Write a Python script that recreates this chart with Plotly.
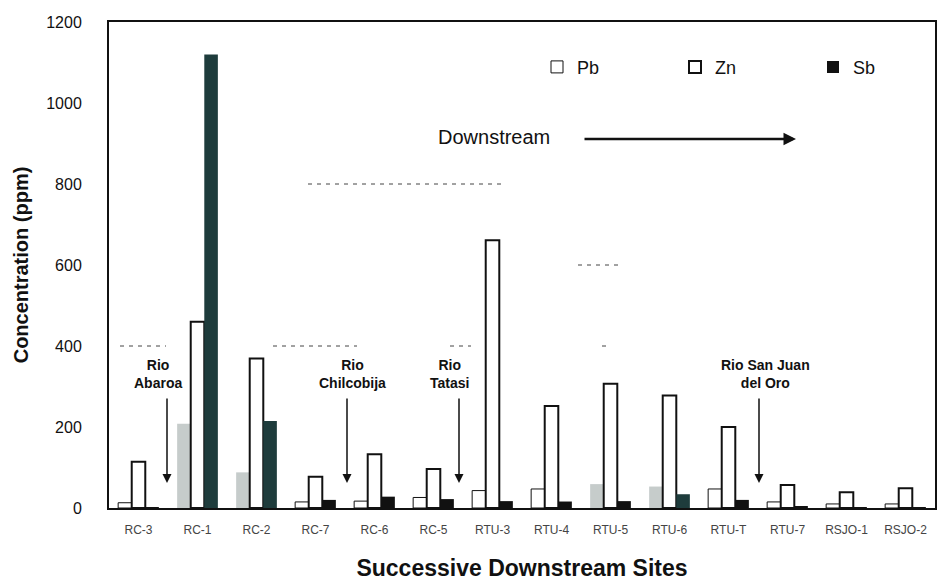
import plotly.graph_objects as go

# Sampling sites, upstream to downstream
sites = ["RC-3", "RC-1", "RC-2", "RC-7", "RC-6", "RC-5", "RTU-3", "RTU-4",
         "RTU-5", "RTU-6", "RTU-T", "RTU-7", "RSJO-1", "RSJO-2"]

# Concentrations (ppm)
pb = [13, 208, 88, 15, 17, 26, 43, 47, 59, 53, 47, 15, 10, 10]
zn = [114, 460, 369, 77, 133, 96, 661, 252, 307, 278, 200, 57, 39, 49]
sb = [2, 1120, 215, 20, 28, 22, 17, 16, 17, 34, 20, 5, 2, 1]

y_ticks = [0, 200, 400, 600, 800, 1000, 1200]

# Sites whose bars are shaded in the figure
shaded_pb = {"RC-1", "RC-2", "RTU-5", "RTU-6"}
shaded_sb = {"RC-1", "RC-2", "RTU-6"}

FONT = "Liberation Sans, Arial, sans-serif"
BLACK = "#111111"

pb_colors = ["#c6cccb" if s in shaded_pb else "white" for s in sites]
pb_lines = [0 if s in shaded_pb else 1 for s in sites]
sb_colors = ["#1e3c3c" if s in shaded_sb else BLACK for s in sites]

fig = go.Figure()
fig.add_trace(go.Bar(name="Pb", x=sites, y=pb,
                     marker=dict(color=pb_colors,
                                 line=dict(color=BLACK, width=pb_lines))))
fig.add_trace(go.Bar(name="Zn", x=sites, y=zn,
                     marker=dict(color="white",
                                 line=dict(color=BLACK, width=2))))
fig.add_trace(go.Bar(name="Sb", x=sites, y=sb,
                     marker=dict(color=sb_colors, line=dict(width=0))))

# Fractional category index from a horizontal pixel position in the plot area
PLOT_L, PLOT_R = 109, 935
step = (PLOT_R - PLOT_L) / len(sites)


def cx(px):
    return (px - PLOT_L) / step - 0.5


def vy(py):
    return (508 - py) / (486 / 1200)


annotations = []

# Tributary labels with downward arrows
tributaries = [
    ("Rio<br>Abaroa", 158, 167),
    ("Rio<br>Chilcobija", 352, 347),
    ("Rio<br>Tatasi", 449, 459),
    ("Rio San Juan<br>del Oro", 765, 759),
]
for text, tx, ax_px in tributaries:
    annotations.append(dict(x=cx(tx), y=vy(374), xref="x", yref="y",
                            text="<b>" + text.replace("<br>", "</b><br><b>") + "</b>",
                            showarrow=False,
                            font=dict(family=FONT, size=14, color=BLACK),
                            align="center"))
    annotations.append(dict(x=cx(ax_px), y=vy(483), xref="x", yref="y",
                            ax=cx(ax_px), ay=vy(397), axref="x", ayref="y",
                            text="", showarrow=True, arrowhead=2,
                            arrowsize=1.2, arrowwidth=1.5, arrowcolor=BLACK))

# Flow direction
annotations.append(dict(x=cx(494), y=vy(137), xref="x", yref="y",
                        text="Downstream", showarrow=False,
                        font=dict(family=FONT, size=20, color=BLACK)))
annotations.append(dict(x=cx(796), y=vy(139), xref="x", yref="y",
                        ax=cx(583), ay=vy(139), axref="x", ayref="y",
                        text="", showarrow=True, arrowhead=2,
                        arrowsize=1, arrowwidth=2.5, arrowcolor=BLACK))

# Faint broken gridline remnants
shapes = []
remnants = [(800, 308, 503), (600, 578, 620), (400, 120, 166),
            (400, 273, 357), (400, 450, 471), (400, 602, 606)]
for yv, x0, x1 in remnants:
    shapes.append(dict(type="line", xref="paper", yref="y",
                       x0=(x0 - PLOT_L) / (PLOT_R - PLOT_L),
                       x1=(x1 - PLOT_L) / (PLOT_R - PLOT_L),
                       y0=yv, y1=yv,
                       line=dict(color="#444444", width=1, dash="4px,5px")))

fig.update_layout(
    width=939, height=581,
    margin=dict(l=PLOT_L, r=939 - PLOT_R, t=22, b=73, autoexpand=False),
    paper_bgcolor="white", plot_bgcolor="white",
    barmode="group", bargap=0.31, bargroupgap=0,
    font=dict(family=FONT, color=BLACK),
    showlegend=True,
    legend=dict(orientation="h", x=(537 - PLOT_L) / (PLOT_R - PLOT_L),
                y=0.907, xanchor="left", yanchor="middle",
                bgcolor="rgba(0,0,0,0)",
                entrywidth=93, entrywidthmode="pixels",
                font=dict(family=FONT, size=18, color=BLACK),
                traceorder="normal"),
    xaxis=dict(showline=True, linecolor=BLACK, linewidth=2, mirror=True,
               ticks="", showgrid=False, ticklabelstandoff=10,
               tickfont=dict(family=FONT, size=12, color="#444444"),
               title=dict(text="<b>Successive Downstream Sites</b>",
                          font=dict(family=FONT, size=23, color=BLACK),
                          standoff=27)),
    yaxis=dict(range=[0, 1200], tickvals=y_ticks, showline=True,
               linecolor=BLACK, linewidth=2, mirror=True, ticks="",
               showgrid=False, zeroline=False, ticklabelstandoff=22,
               tickfont=dict(family=FONT, size=16, color=BLACK),
               title=dict(text="<b>Concentration (ppm)</b>",
                          font=dict(family=FONT, size=20, color=BLACK),
                          standoff=12)),
    annotations=annotations,
    shapes=shapes,
)

fig.write_html("out.html")
